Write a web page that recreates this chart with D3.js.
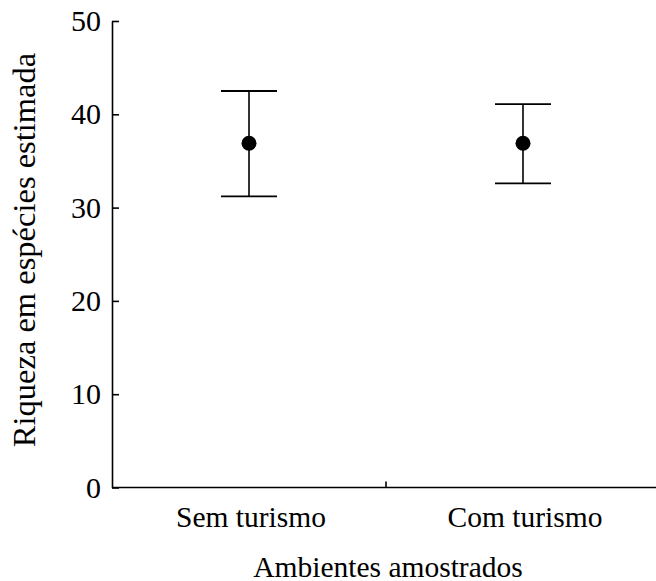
<!DOCTYPE html>
<html>
<head>
<meta charset="utf-8">
<script src="https://cdn.jsdelivr.net/npm/d3@7"></script>
<style>
  body { margin: 0; background: #fff; }
  .axis path, .axis line { stroke: #000; stroke-width: 1.6px; }
</style>
</head>
<body>
<div id="content"></div>
<script>
  // data
  var categories = ["Sem turismo", "Com turismo"];
  var means = [36.9, 36.9];
  var upper = [42.5, 41.1];
  var lower = [31.2, 32.6];
  var yTicks = [0, 10, 20, 30, 40, 50];

  var width = 656,
      height = 581,
      serif = "'Liberation Serif', 'Times New Roman', Times, 'DejaVu Serif', serif";

  var svg = d3.select("#content").append("svg")
      .attr("width", width)
      .attr("height", height);

  var x = d3.scaleBand()
      .domain(categories)
      .range([112, 660]);

  var y = d3.scaleLinear()
      .domain([0, 50])
      .range([487.5, 21]);

  // y axis, ticks pointing inward
  var yAxis = svg.append("g")
      .attr("class", "axis")
      .attr("transform", "translate(112,0)")
      .call(d3.axisRight(y).tickValues(yTicks).tickSize(7).tickSizeOuter(0));
  yAxis.attr("font-family", null).attr("font-size", null);
  yAxis.selectAll("text")
      .attr("x", -11)
      .attr("text-anchor", "end")
      .style("font-family", serif)
      .style("font-size", "30px")
      .attr("fill", "#000");

  // x axis: line + one tick at the boundary between groups
  var xAxis = svg.append("g")
      .attr("class", "axis");
  xAxis.append("line")
      .attr("x1", 112).attr("x2", width)
      .attr("y1", y(0)).attr("y2", y(0));
  xAxis.append("line")
      .attr("x1", x(categories[1])).attr("x2", x(categories[1]))
      .attr("y1", y(0)).attr("y2", y(0) - 6);
  xAxis.selectAll("text.cat")
      .data(categories)
      .enter().append("text")
      .attr("class", "cat")
      .attr("x", function(d) { return x(d) + x.bandwidth() / 2 + 2; })
      .attr("y", y(0) + 39.5)
      .attr("text-anchor", "middle")
      .style("font-family", serif)
      .style("font-size", "29.5px")
      .text(function(d) { return d; });

  // error bars
  var bars = svg.append("g")
      .selectAll("g")
      .data(categories)
      .enter().append("g")
      .attr("transform", function(d) { return "translate(" + (x(d) + x.bandwidth() / 2) + ",0)"; });

  bars.append("line")
      .attr("y1", function(d, i) { return y(upper[i]); })
      .attr("y2", function(d, i) { return y(lower[i]); })
      .attr("stroke", "#000").attr("stroke-width", 1.6);
  bars.append("line")
      .attr("x1", -28).attr("x2", 28)
      .attr("y1", function(d, i) { return y(upper[i]); })
      .attr("y2", function(d, i) { return y(upper[i]); })
      .attr("stroke", "#000").attr("stroke-width", 1.8);
  bars.append("line")
      .attr("x1", -28).attr("x2", 28)
      .attr("y1", function(d, i) { return y(lower[i]); })
      .attr("y2", function(d, i) { return y(lower[i]); })
      .attr("stroke", "#000").attr("stroke-width", 1.8);
  bars.append("circle")
      .attr("cy", function(d, i) { return y(means[i]); })
      .attr("r", 7.5)
      .attr("fill", "#000");

  // axis titles
  svg.append("text")
      .attr("x", 388)
      .attr("y", 576.5)
      .attr("text-anchor", "middle")
      .style("font-family", serif)
      .style("font-size", "29.5px")
      .text("Ambientes amostrados");

  svg.append("text")
      .attr("transform", "translate(35,250) rotate(-90)")
      .attr("text-anchor", "middle")
      .style("font-family", serif)
      .style("font-size", "32.5px")
      .text("Riqueza em espécies estimada");
</script>
</body>
</html>
